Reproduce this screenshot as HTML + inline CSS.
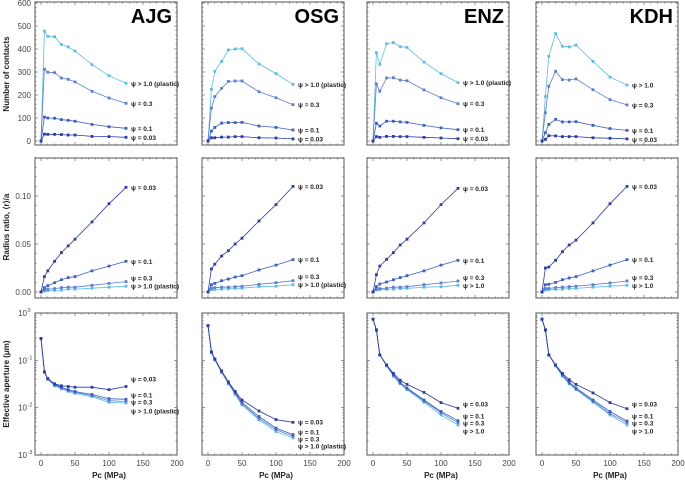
<!DOCTYPE html>
<html><head><meta charset="utf-8">
<style>
body{margin:0;background:#fff;}
svg{display:block;font-family:"Liberation Sans",sans-serif;}
.tk{font-size:8px;fill:#444;}
.lb{font-size:6.5px;font-weight:bold;fill:#222;}
.ttl{font-size:8px;font-weight:bold;fill:#222;}
.big{font-size:20px;font-weight:bold;fill:#000;}
</style></head>
<body>
<svg id="chart" width="685" height="481" viewBox="0 0 685 481" xmlns="http://www.w3.org/2000/svg"></svg>
<script>
const pressures=[0,5,10,20,30,40,50,75,100,125];
const samples=["AJG","OSG","ENZ","KDH"];
const psiNames=["ψ = 0.03","ψ = 0.1","ψ = 0.3","ψ > 1.0"];
// Number of contacts
const ncAJG003=[0,30,29,29,28,26,26,20,19,16];
const ncAJG01=[0,104,100,99,93,90,86,72,62,55];
const ncAJG03=[0,312,299,297,274,268,257,216,187,164];
const ncAJGp=[0,478,455,453,420,409,391,332,284,251];
const ncOSG003=[0,14,14,17,17,19,19,14,13,9];
const ncOSG01=[0,43,59,78,80,80,81,65,59,48];
const ncOSG03=[0,143,193,229,259,261,261,214,188,158];
const ncOSGp=[0,225,303,346,396,400,401,335,293,246];
const ncENZ003=[0,19,16,20,20,19,19,16,13,10];
const ncENZ01=[0,77,65,86,86,83,81,68,57,49];
const ncENZ03=[0,248,216,274,275,265,262,222,188,162];
const ncENZp=[0,384,333,423,428,410,407,343,293,254];
const ncKDH003=[0,7,23,22,19,19,19,14,12,9];
const ncKDH01=[0,36,72,94,83,83,84,68,54,46];
const ncKDH03=[0,123,238,303,267,265,270,223,180,157];
const ncKDHp=[0,193,368,467,412,409,417,346,278,243];
// Radius ratio
const rrAJG003=[0,.016,.022,.032,.041,.048,.055,.073,.092,.109];
const rrAJG01=[0,.0045,.0066,.0097,.0128,.015,.016,.022,.027,.032];
const rrAJG03=[0,.002,.003,.0035,.0045,.005,.005,.007,.009,.0108];
const rrAJGp=[0,.001,.0014,.0017,.002,.003,.003,.004,.005,.006];
const rrOSG003=[0,.024,.029,.0375,.043,.050,.056,.074,.091,.110];
const rrOSG01=[0,.0076,.009,.0118,.0135,.0156,.017,.023,.028,.0337];
const rrOSG03=[0,.004,.0045,.005,.005,.0055,.006,.008,.0097,.0118];
const rrOSGp=[0,.0024,.0026,.003,.0033,.0038,.004,.0055,.006,.0076];
const rrENZ003=[0,.018,.027,.034,.041,.049,.055,.072,.091,.108];
const rrENZ01=[0,.0056,.0083,.0104,.0128,.015,.017,.022,.028,.033];
const rrENZ03=[0,.003,.0035,.004,.005,.005,.0055,.0076,.0094,.0115];
const rrENZp=[0,.002,.0024,.0028,.003,.0035,.0038,.005,.0055,.007];
const rrKDH003=[0,.025,.026,.033,.042,.049,.054,.072,.092,.110];
const rrKDH01=[0,.0076,.008,.010,.0128,.0146,.016,.022,.028,.0337];
const rrKDH03=[0,.0035,.0038,.0045,.005,.0055,.006,.0076,.0094,.0115];
const rrKDHp=[0,.002,.0024,.0028,.003,.0035,.0038,.005,.006,.007];
// Effective aperture
const apAJG003=[.29,.057,.041,.032,.029,.028,.027,.027,.024,.028];
const apAJG01=[.29,.057,.041,.031,.027,.024,.022,.019,.0155,.015];
const apAJG03=[.29,.057,.040,.030,.026,.023,.021,.018,.014,.0135];
const apAJGp=[.29,.056,.040,.029,.025,.022,.020,.017,.013,.0125];
const apOSG003=[.54,.15,.107,.06,.035,.022,.0145,.0085,.0056,.0049];
const apOSG01=[.54,.15,.105,.059,.034,.021,.0128,.0065,.0037,.0027];
const apOSG03=[.54,.15,.104,.057,.033,.020,.012,.0059,.0034,.0025];
const apOSGp=[.54,.145,.102,.055,.032,.019,.0114,.0055,.0031,.0023];
const apENZ003=[.74,.44,.13,.08,.053,.038,.031,.021,.0128,.0097];
const apENZ01=[.74,.44,.13,.079,.050,.034,.026,.0145,.0083,.0053];
const apENZ03=[.74,.44,.13,.078,.048,.033,.025,.0138,.0078,.0048];
const apENZp=[.74,.43,.13,.076,.046,.032,.024,.013,.007,.0043];
const apKDH003=[.74,.44,.13,.08,.053,.039,.031,.0205,.0128,.0095];
const apKDH01=[.74,.44,.13,.079,.05,.035,.026,.0145,.0083,.0052];
const apKDH03=[.74,.44,.13,.078,.048,.033,.025,.0136,.0075,.0048];
const apKDHp=[.74,.43,.13,.076,.046,.032,.024,.013,.007,.0043];
const xTicks=[0,50,100,150,200];
const ncTicks=[0,100,200,300,400,500,600];
const rrTicks=["0.00","0.05","0.10"];
const apTicks=[0,-1,-2,-3];

const DATA={
 nc:{AJG:[ncAJG003,ncAJG01,ncAJG03,ncAJGp],OSG:[ncOSG003,ncOSG01,ncOSG03,ncOSGp],ENZ:[ncENZ003,ncENZ01,ncENZ03,ncENZp],KDH:[ncKDH003,ncKDH01,ncKDH03,ncKDHp]},
 rr:{AJG:[rrAJG003,rrAJG01,rrAJG03,rrAJGp],OSG:[rrOSG003,rrOSG01,rrOSG03,rrOSGp],ENZ:[rrENZ003,rrENZ01,rrENZ03,rrENZp],KDH:[rrKDH003,rrKDH01,rrKDH03,rrKDHp]},
 ap:{AJG:[apAJG003,apAJG01,apAJG03,apAJGp],OSG:[apOSG003,apOSG01,apOSG03,apOSGp],ENZ:[apENZ003,apENZ01,apENZ03,apENZp],KDH:[apKDH003,apKDH01,apKDH03,apKDHp]}
};
const colors=["#2a3caa","#3d5fc4","#5b7fd2","#5cbde8"];
const svg=document.getElementById('chart');
const NS="http://www.w3.org/2000/svg";
function el(tag,attrs,parent){const e=document.createElementNS(NS,tag);for(const k in attrs)e.setAttribute(k,attrs[k]);(parent||svg).appendChild(e);return e;}

const colX0=[41,208,373,542];
const rows=[
 {key:"nc",top:2,bot:145,y:v=>141-v*0.2300},
 {key:"rr",top:158,bot:298,y:v=>292-v*960},
 {key:"ap",top:313,bot:455,y:v=>313-Math.log10(v)*47.33}
];
const apLabY=[[379,395,402,411],[422,432,439,446],[404,416,423,431],[404,416,423,431]];

rows.forEach((row,ri)=>{
 samples.forEach((s,ci)=>{
  const x0=colX0[ci];
  const X=v=>x0+v*0.68;
  const g=el('g',{});
  
  
  const L=x0-6,R=X(200);
  const fr=el('rect',{x:L,y:row.top,width:R-L,height:row.bot-row.top,fill:'none',stroke:'#555','stroke-width':1},g);
  
  
  for(let v=0;v<=200;v+=10){const len=v%50===0?3:1.5;
   el('line',{x1:X(v),x2:X(v),y1:row.bot,y2:row.bot-len,stroke:'#555','stroke-width':0.6},g);
   el('line',{x1:X(v),x2:X(v),y1:row.top,y2:row.top+len,stroke:'#555','stroke-width':0.6},g);}
  let yt=[];
  if(row.key==="nc"){for(let v=0;v<=600;v+=20)yt.push([row.y(v),v%100===0]);}
  else if(row.key==="rr"){for(let v=0;v<=0.14;v+=0.01)yt.push([row.y(v),Math.round(v*100)%5===0]);}
  else{for(let d=-3;d<0;d++)for(let m=1;m<10;m++)yt.push([row.y(m*Math.pow(10,d)),m===1]);yt.push([row.y(1),true]);}
  yt.forEach(([y,maj])=>{if(y<row.top-0.5||y>row.bot+0.5)return;const len=maj?3:1.5;
   el('line',{x1:L,x2:L+len,y1:y,y2:y,stroke:'#555','stroke-width':0.6},g);
   el('line',{x1:R,x2:R-len,y1:y,y2:y,stroke:'#555','stroke-width':0.6},g);});
  if(ci===0){
   if(row.key==="nc")ncTicks.forEach(v=>{const t=el('text',{x:L-4,y:row.y(v)+3,'text-anchor':'end',class:'tk'},g);t.textContent=v;});
   if(row.key==="rr")rrTicks.forEach(v=>{const t=el('text',{x:L-4,y:row.y(+v)+3,'text-anchor':'end',class:'tk'},g);t.textContent=v;});
   if(row.key==="ap")apTicks.forEach(d=>{const t=el('text',{x:L-8,y:row.y(Math.pow(10,d))+3,'text-anchor':'end',class:'tk'},g);t.textContent='10';
     const sp=el('text',{x:L-7.5,y:row.y(Math.pow(10,d))-1,class:'tk',style:'font-size:5.5px'},g);sp.textContent=String(d);});
  }
  if(ri===2){xTicks.forEach(v=>{const t=el('text',{x:X(v),y:row.bot+11,'text-anchor':'middle',class:'tk'},g);t.textContent=v;});
   const xt=el('text',{x:X(100),y:478,'text-anchor':'middle',class:'ttl'},g);xt.textContent='Pc (MPa)';}
  const series=DATA[row.key][s];
  const labY=[];
  const fin=series.map(a=>row.y(a[a.length-1]));
  if(row.key==="nc"){let p=-99;for(let i=3;i>=0;i--){const v=Math.max(fin[i],p+9);labY[i]=v;p=v;}}
  else if(row.key==="rr"){let p=999;for(let i=3;i>=0;i--){const v=Math.min(fin[i],p-8);labY[i]=v;p=v;}}
  else apLabY[ci].forEach((v,i)=>{labY[i]=v;});
  for(let si=3;si>=0;si--){
   const vals=series[si];const c=colors[si];
   const pts=vals.map((v,i)=>X(pressures[i]).toFixed(1)+','+row.y(v).toFixed(1)).join(' ');
   const pl=el('polyline',{points:pts,fill:'none',stroke:c,'stroke-width':0.8},g);
   
   
   vals.forEach((v,i)=>{const r=el('rect',{x:X(pressures[i])-1.4,y:row.y(v)-1.4,width:2.8,height:2.8,fill:c},g);
    
    });
   let name=psiNames[si];
   if(si===3&&(ci<2||(ci===2&&ri===0)))name+=' (plastic)';
   const t=el('text',{x:X(125)+5,y:labY[si]+2.5,class:'lb'},g);t.textContent=name;
   
   
  }
  if(ri===0){const t=el('text',{x:R-5,y:23,'text-anchor':'end',class:'big'},g);t.textContent=s;
   
   }
 });
});
const yTitles=[["Number of contacts",74],["Radius ratio, ⟨r⟩/a",227],["Effective aperture (μm)",384]];
yTitles.forEach(([txt,cy])=>{const t=el('text',{x:0,y:0,transform:`translate(9,${cy}) rotate(-90)`,'text-anchor':'middle',class:'ttl'});t.textContent=txt;
 
 });
</script>
</body></html>
